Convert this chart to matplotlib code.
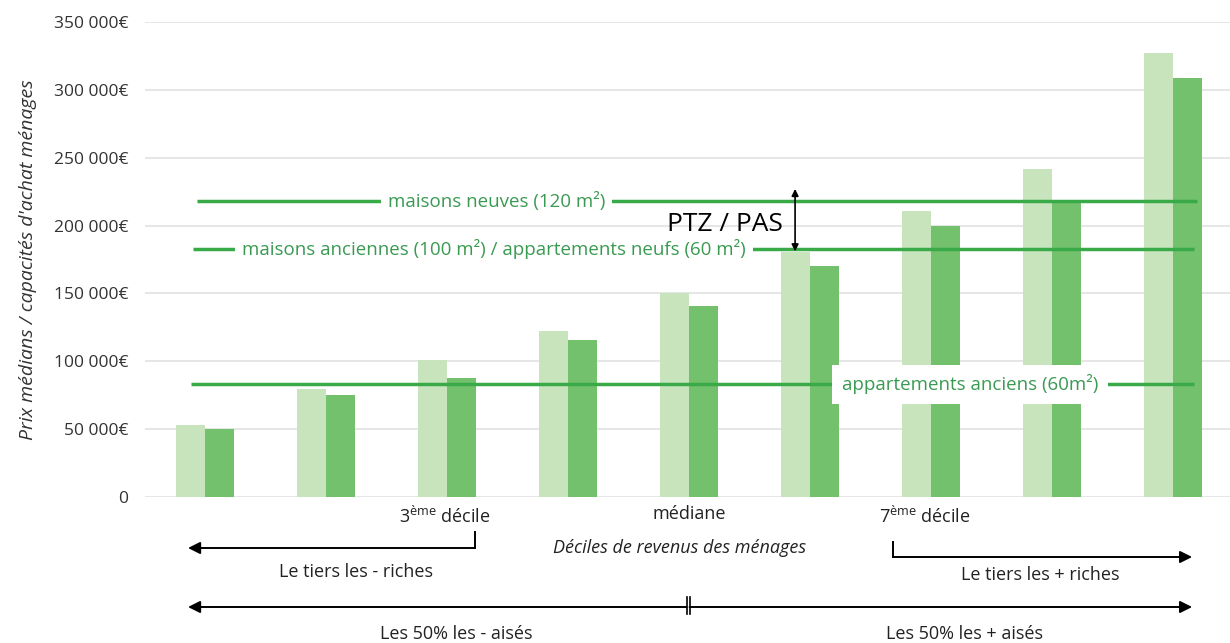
import numpy as np
import matplotlib.pyplot as plt
from matplotlib.transforms import blended_transform_factory

plt.rcParams['font.family'] = ['Open Sans', 'DejaVu Sans']

# Données (9 groupes de déciles)
deciles = np.arange(9)
prix_clair = [53000, 79500, 101000, 122000, 150000, 180500, 211000, 241500, 327500]
prix_fonce = [50000, 75000, 87500, 115500, 141000, 170000, 199500, 218500, 309000]

seuils = [218000, 182500, 83000]
seuils_labels = ['maisons neuves (120 m²)',
                 'maisons anciennes (100 m²) / appartements neufs (60 m²)',
                 'appartements anciens (60m²)']
yticks = [0, 50000, 100000, 150000, 200000, 250000, 300000, 350000]
ytick_labels = ['0', '50 000€', '100 000€', '150 000€', '200 000€',
                '250 000€', '300 000€', '350 000€']

c_light = '#c8e4bd'
c_dark = '#73c16c'
c_line = '#3aaa48'
c_text = '#3a9a52'

fig = plt.figure(figsize=(12.3, 6.43), dpi=100)
ax = fig.add_axes([145/1230, 1-497/643, 1-145/1230, (497-22)/643])

w = 0.24
ax.bar(deciles - w/2, prix_clair, width=w, color=c_light, zorder=2)
ax.bar(deciles + w/2, prix_fonce, width=w, color=c_dark, zorder=2)

ax.set_xlim(-0.496, 8.47)
ax.set_ylim(0, 350000)
ax.set_yticks(yticks)
ax.set_yticklabels(ytick_labels, fontsize=12.5, color='#333333')
ax.set_xticks([])
ax.tick_params(axis='y', length=0, pad=12)
for s in ax.spines.values():
    s.set_visible(False)
ax.grid(axis='y', color='#e2e2e2', linewidth=1.2, zorder=0)
ax.set_axisbelow(True)

# seuils de prix
ax.hlines(seuils[0], -0.07, 8.2, color=c_line, lw=2.5, zorder=3)
ax.hlines(seuils[1], -0.1, 8.17, color=c_line, lw=2.5, zorder=3)
ax.hlines(seuils[2], -0.12, 8.17, color=c_line, lw=2.5, zorder=3)

ax.text(2.41, seuils[0], seuils_labels[0], color=c_text, fontsize=13.5,
        ha='center', va='center', bbox=dict(facecolor='white', edgecolor='none', pad=5), zorder=4)
ax.text(2.39, seuils[1], seuils_labels[1], color=c_text, fontsize=13.5,
        ha='center', va='center', bbox=dict(facecolor='white', edgecolor='none', pad=5), zorder=4)
ax.text(6.32, seuils[2], seuils_labels[2], color=c_text, fontsize=13.5,
        ha='center', va='center', bbox=dict(facecolor='white', edgecolor='none', pad=7), zorder=4)

# PTZ / PAS
ax.annotate('', xy=(4.876, seuils[0] + 9000), xytext=(4.876, seuils[1] - 1500),
            arrowprops=dict(arrowstyle='<|-|>', color='black', lw=1.2,
                            mutation_scale=10, shrinkA=0, shrinkB=0), zorder=5)
ax.text(4.3, 200500, 'PTZ / PAS', fontsize=19, ha='center', va='center',
        color='black', zorder=5)

ax.set_ylabel('Prix médians / capacités d\'achat ménages', fontsize=14,
              style='italic', color='#333333', labelpad=12)

# annotations sous l'axe
tr = blended_transform_factory(ax.transData, fig.transFigure)
def fy(p):
    return 1 - p/643

lab = dict(transform=tr, fontsize=13, ha='center', va='center', color='#222222')
ax.text(1.98, fy(516), '3$^{\\mathregular{ème}}$ décile', **lab)
ax.text(4.0, fy(514), 'médiane', **lab)
ax.text(5.95, fy(516), '7$^{\\mathregular{ème}}$ décile', **lab)
ax.text(3.92, fy(548), 'Déciles de revenus des ménages', style='italic', **lab)

x_l = (188-205)/121
x_r = (1192-205)/121
x_3 = (475-205)/121
x_7 = (893-205)/121
x_m = (688-205)/121

arr = dict(arrowstyle='-|>', color='black', lw=1.4, mutation_scale=18, shrinkA=0, shrinkB=0)

ax.plot([x_3, x_3], [fy(532), fy(548)], transform=tr, color='black', lw=1.4, clip_on=False)
ax.annotate('', xy=(x_l, fy(548)), xytext=(x_3, fy(548)), xycoords=tr, textcoords=tr,
            arrowprops=arr)
ax.text(1.25, fy(572), 'Le tiers les - riches', **lab)

ax.plot([x_7, x_7], [fy(542), fy(557)], transform=tr, color='black', lw=1.4, clip_on=False)
ax.annotate('', xy=(x_r, fy(557)), xytext=(x_7, fy(557)), xycoords=tr, textcoords=tr,
            arrowprops=arr)
ax.text(6.9, fy(575), 'Le tiers les + riches', **lab)

ax.plot([x_m - 0.012, x_m - 0.012], [fy(597), fy(614)], transform=tr, color='black', lw=1.2, clip_on=False)
ax.plot([x_m + 0.012, x_m + 0.012], [fy(597), fy(614)], transform=tr, color='black', lw=1.2, clip_on=False)
ax.annotate('', xy=(x_l, fy(607)), xytext=(x_m - 0.012, fy(607)), xycoords=tr, textcoords=tr,
            arrowprops=arr)
ax.annotate('', xy=(x_r, fy(607)), xytext=(x_m + 0.012, fy(607)), xycoords=tr, textcoords=tr,
            arrowprops=arr)
ax.text(2.08, fy(634), 'Les 50% les - aisés', **lab)
ax.text(6.28, fy(634), 'Les 50% les + aisés', **lab)

fig.savefig('out.png', dpi=100)
